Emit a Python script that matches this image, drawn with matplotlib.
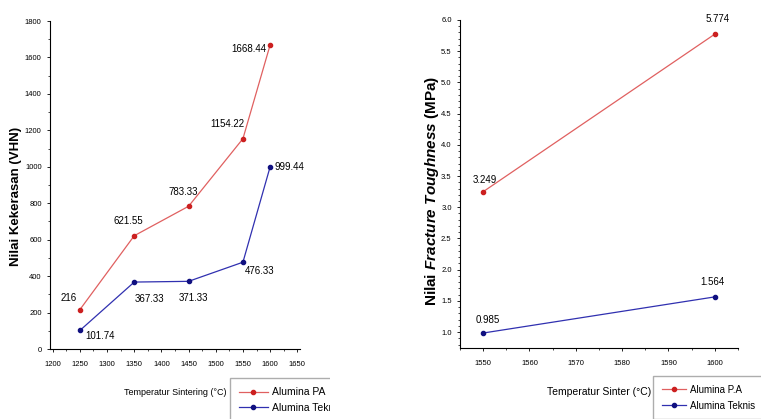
import matplotlib
matplotlib.use('Agg')
import matplotlib.pyplot as plt
from matplotlib.ticker import MultipleLocator
from matplotlib.patches import Rectangle

plt.rcParams['font.family'] = ['Liberation Sans Narrow', 'Liberation Sans', 'DejaVu Sans']
plt.rcParams['mathtext.fontset'] = 'custom'
plt.rcParams['mathtext.it'] = 'Liberation Sans:italic:bold'
plt.rcParams['mathtext.rm'] = 'Liberation Sans:bold'

# kekerasan (hardness)
suhu_keras = [1250, 1350, 1450, 1550, 1600]
keras_pa = [216, 621.55, 783.33, 1154.22, 1668.44]
keras_teknis = [101.74, 367.33, 371.33, 476.33, 999.44]
label_pa = ['216', '621.55', '783.33', '1154.22', '1668.44']
label_teknis = ['101.74', '367.33', '371.33', '476.33', '999.44']

# fracture toughness
suhu_frak = [1550, 1600]
frak_pa = [3.249, 5.774]
frak_teknis = [0.985, 1.564]

merah = '#e06060'
biru = '#3030b0'

fig = plt.figure(figsize=(7.61, 4.19), dpi=100)

# ---- grafik kiri ----
ax1 = fig.add_axes([50 / 761, 1 - 349 / 419, 250 / 761, 328 / 419])
ax1.plot(suhu_keras, keras_pa, color=merah, lw=0.9, marker='o', ms=3,
         mfc='#cc2020', mec='#cc2020', label='Alumina PA')
ax1.plot(suhu_keras, keras_teknis, color=biru, lw=0.9, marker='o', ms=3,
         mfc='#101080', mec='#101080', label='Alumina Teknis')
ax1.set_xlim(1195, 1655)
ax1.set_ylim(0, 1800)
ax1.xaxis.set_major_locator(MultipleLocator(50))
ax1.xaxis.set_minor_locator(MultipleLocator(25))
ax1.yaxis.set_major_locator(MultipleLocator(200))
ax1.yaxis.set_minor_locator(MultipleLocator(100))
for s in ['top', 'right']:
    ax1.spines[s].set_visible(False)
ax1.tick_params(labelsize=5.5, length=2.5, width=0.6)
ax1.tick_params(axis='x', pad=6)
ax1.tick_params(which='minor', length=1.5, width=0.5)

# posisi label data (offset dalam poin)
off_pa = [(-8, 5), (-4, 7), (-4, 7), (-11, 7), (-3, -3)]
ha_pa = ['center', 'center', 'center', 'center', 'right']
off_teknis = [(4, -4), (0.5, -12), (-7, -12), (1.5, -6), (3, 0)]
for x, y, t, o, h in zip(suhu_keras, keras_pa, label_pa, off_pa, ha_pa):
    ax1.annotate(t, (x, y), xytext=o, textcoords='offset points', fontsize=7,
                 ha=h, va='bottom' if o[1] > 0 else 'center')
for x, y, t, o in zip(suhu_keras, keras_teknis, label_teknis, off_teknis):
    ax1.annotate(t, (x, y), xytext=o, textcoords='offset points', fontsize=7,
                 ha='left', va='center')

ax1.set_xlabel('Temperatur Sintering (°C)', fontsize=6.5)
ax1.xaxis.set_label_coords(0.5, -0.12)
ax1.set_ylabel('Nilai Kekerasan (VHN)', fontsize=9.5, fontweight='bold',
               family=['Liberation Sans', 'DejaVu Sans'])
ax1.yaxis.set_label_coords(-0.11, 0.466)
ax1.legend(loc='upper left', bbox_to_anchor=(230 / 761, 1 - 378 / 419),
           bbox_transform=fig.transFigure, fontsize=7.5, frameon=True,
           fancybox=False, edgecolor='#999999', handlelength=2.7,
           borderaxespad=0, borderpad=0.9, labelspacing=0.5, handletextpad=0.4)

# ---- grafik kanan ----
ax2 = fig.add_axes([460 / 761, 1 - 348 / 419, 278 / 761, 328 / 419])
ax2.plot(suhu_frak, frak_pa, color=merah, lw=0.9, marker='o', ms=3,
         mfc='#cc2020', mec='#cc2020', label='Alumina P.A')
ax2.plot(suhu_frak, frak_teknis, color=biru, lw=0.9, marker='o', ms=3,
         mfc='#101080', mec='#101080', label='Alumina Teknis')
ax2.set_xlim(1545, 1605)
ax2.set_ylim(0.745, 6.0)
ax2.xaxis.set_major_locator(MultipleLocator(10))
ax2.xaxis.set_minor_locator(MultipleLocator(5))
ax2.yaxis.set_major_locator(MultipleLocator(0.5))
ax2.yaxis.set_minor_locator(MultipleLocator(0.1))
for s in ['top', 'right']:
    ax2.spines[s].set_visible(False)
ax2.tick_params(labelsize=5.5, length=2.5, width=0.6)
ax2.tick_params(axis='x', pad=6)
ax2.tick_params(which='minor', length=1.5, width=0.5)

off_frak_pa = [(1, 5), (2, 7)]
off_frak_teknis = [(3, 6), (-2, 7)]
for x, y, o in zip(suhu_frak, frak_pa, off_frak_pa):
    ax2.annotate(f'{y:.3f}', (x, y), xytext=o, textcoords='offset points',
                 fontsize=7, ha='center', va='bottom')
for x, y, o in zip(suhu_frak, frak_teknis, off_frak_teknis):
    ax2.annotate(f'{y:.3f}', (x, y), xytext=o, textcoords='offset points',
                 fontsize=7, ha='center', va='bottom')

ax2.set_xlabel('Temperatur Sinter (°C)', fontsize=7.5)
ax2.xaxis.set_label_coords(0.5, -0.12)
ax2.set_ylabel('$\\mathrm{Nilai}$ $\\it{Fracture\\ Toughness}$ $\\mathrm{(MPa)}$',
               fontsize=11)
ax2.yaxis.set_label_coords(-0.068, 0.48)
ax2.legend(loc='upper left', bbox_to_anchor=(653 / 761, 1 - 376 / 419),
           bbox_transform=fig.transFigure, fontsize=7, frameon=True,
           fancybox=False, edgecolor='#999999', handlelength=2.5,
           borderaxespad=0, borderpad=0.9, labelspacing=0.6, handletextpad=0.4)

# potongan gambar kiri berakhir sekitar x=330 px
fig.patches.append(Rectangle((330 / 761, 0), 95 / 761, 60 / 419,
                             transform=fig.transFigure, facecolor='white',
                             edgecolor='none', zorder=10))

fig.savefig('out.png', dpi=100)
